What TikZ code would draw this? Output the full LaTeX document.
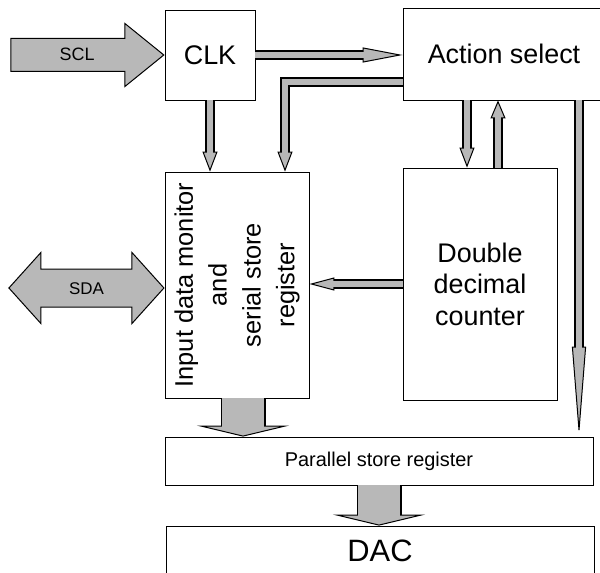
\documentclass[tikz,border=0pt]{standalone}
\usepackage{fontspec}
\setmainfont{Liberation Sans}
\usetikzlibrary{positioning,arrows.meta,shapes.arrows}
\definecolor{busgray}{gray}{0.72}
\tikzset{
  box/.style={draw, line width=0.8bp, inner sep=0pt},
  % #1 inner width, #2 outer width, #3 head width, #4 head length, #5 head length - 1bp
  bus/.style n args={5}{draw=busgray, line width=#1,
    -{Triangle[width=#3, length=#4, color=black, fill=busgray, line width'=1bp]},
    preaction={draw=black, -, line width=#2, shorten >=#5},
    postaction={draw=busgray, -, line width=#1, shorten >=#5}},
  thinbus/.style={bus={6.5bp}{9.5bp}{15bp}{20bp}{19bp}},
  fatbus/.style={bus={42bp}{45bp}{92bp}{11bp}{10bp}},
  big/.style={font=\fontsize{27}{31.5}\selectfont},
}
\begin{document}
\begin{tikzpicture}[x=1bp,y=-1bp]
\clip (0,0) rectangle (600,573);
% blocks
\node[box,big,minimum width=90bp,minimum height=90bp] (clk) at (210,55) {CLK};
\node[box,big,minimum width=202bp,minimum height=92bp] (act) at (504,54) {Action select};
\node[box,minimum width=144bp,minimum height=226bp] (inp) at (237,285)
  {\rotatebox{90}{\parbox{220bp}{\centering\fontsize{25.5}{34}\selectfont
   Input data monitor\\and\\serial store\\register}}};
\node[box,big,align=center,minimum width=154bp,minimum height=232bp] (cnt) at (480,284)
  {Double\\decimal\\counter};
\node[box,font=\fontsize{20}{24}\selectfont,minimum width=428bp,minimum height=48bp] (par) at (379,461)
  {Parallel store register};
\node[box,font=\fontsize{31}{36}\selectfont,minimum width=428bp,minimum height=50bp] (dac) at (380,551) {DAC};

% serial lines
\node[single arrow, draw, fill=busgray, line width=1bp, minimum height=153bp,
  inner xsep=0pt, inner ysep=10bp, text height=12bp, text depth=0bp,
  single arrow head extend=15bp, single arrow tip angle=78,
  font=\fontsize{18}{20}\selectfont, anchor=tip] (scl) at (clk.west) {SCL\hspace{28bp}};
\node[double arrow, draw, fill=busgray, line width=1bp, minimum height=155bp,
  inner xsep=0pt, inner ysep=12.5bp, text height=12bp, text depth=0bp,
  double arrow head extend=16.5bp, double arrow tip angle=96,
  font=\fontsize{17}{19}\selectfont, left=0bp of inp, yshift=-3bp] (sda) {SDA};

% internal buses
\draw[bus={6.5bp}{9.5bp}{15bp}{40bp}{39bp}] (clk.east) -- (clk.east -| act.west);
\draw[thinbus] ([yshift=-28bp]act.west) -| ([xshift=48bp]inp.north);
\draw[thinbus] (clk.south) -- (clk.south |- inp.north);
\draw[thinbus] ([xshift=-37bp]act.south) -- ([xshift=-37bp]act.south |- cnt.north);
\draw[bus={6.5bp}{9.5bp}{15bp}{18bp}{17bp}] ([xshift=-6bp]act.south |- cnt.north) -- ([xshift=-6bp]act.south);
\draw[bus={6.5bp}{9.5bp}{14bp}{90bp}{89bp}] ([xshift=75bp]act.south) -- ([xshift=75bp]act.south |- par.north);
\draw[bus={6.5bp}{9.5bp}{13bp}{25bp}{24bp}] (cnt.west) -- (cnt.west -| inp.east);
\draw[fatbus] ([xshift=6bp]inp.south) -- ([xshift=6bp]inp.south |- par.north);
\draw[fatbus] (par.south) -- (par.south |- dac.north);
\end{tikzpicture}
\end{document}
